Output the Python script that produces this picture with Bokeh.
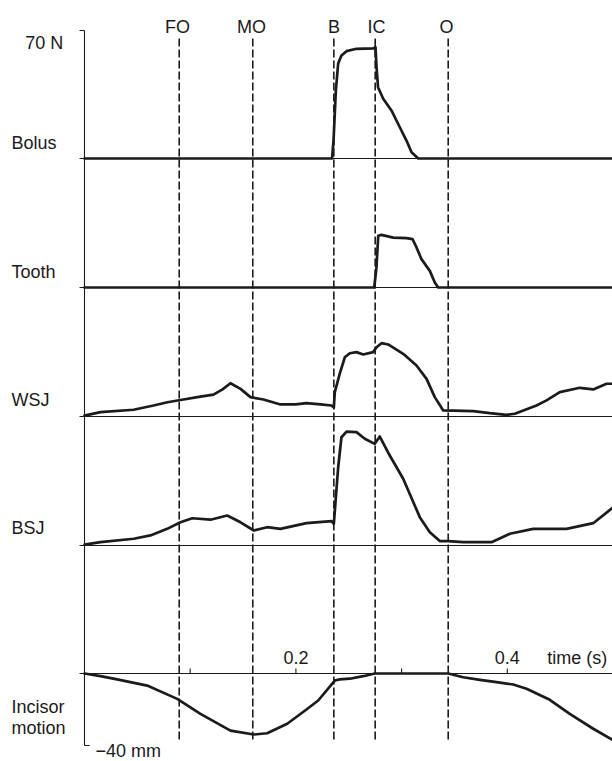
import numpy as np
from bokeh.plotting import figure
from bokeh.models import Range1d
from bokeh.core.properties import value
from bokeh.embed import file_html
from bokeh.resources import INLINE

# ---------------- data (time in s) ----------------
event_names = ["FO", "MO", "B", "IC", "O"]
event_t = [0.0896, 0.1592, 0.2359, 0.2750, 0.3441]

bolus_t = [0.0, 0.2342, 0.2356, 0.2378, 0.2400, 0.2431, 0.2479, 0.2573, 0.2734, 0.2753,
           0.2763, 0.2777, 0.2826, 0.2904, 0.2983, 0.3046, 0.3094, 0.3157, 0.4995]
bolus_n = [0.0, 0.0, 9.8, 37.2, 52.0, 56.3, 58.7, 60.0, 60.2, 60.9,
           49.9, 39.0, 32.7, 26.3, 17.1, 9.8, 3.4, 0.0, 0.0]

tooth_t = [0.0, 0.2741, 0.2762, 0.2779, 0.2810, 0.2921, 0.3046, 0.3103, 0.3141, 0.3188,
           0.3267, 0.3314, 0.3346, 0.4995]
tooth_n = [0.0, 0.0, 10.9, 28.3, 28.8, 27.3, 27.0, 26.5, 21.9, 15.5,
           9.1, 2.7, 0.0, 0.0]

wsj_t = [0.0, 0.0151, 0.0464, 0.0653, 0.0785, 0.0908, 0.1097, 0.1220, 0.1306, 0.1381,
         0.1476, 0.1570, 0.1693, 0.1854, 0.1996, 0.2100, 0.2233, 0.2337, 0.2359, 0.2368,
         0.2415, 0.2463, 0.2510, 0.2573, 0.2637, 0.2731, 0.2763, 0.2810, 0.2873, 0.3015,
         0.3141, 0.3236, 0.3314, 0.3394, 0.3677, 0.3834, 0.3992, 0.4071, 0.4276, 0.4371,
         0.4497, 0.4686, 0.4813, 0.4939, 0.4995]
wsj_n = [0.5, 2.4, 3.7, 6.0, 7.8, 9.0, 10.9, 12.0, 14.8, 18.2,
         15.1, 10.6, 9.3, 6.6, 6.6, 7.3, 6.6, 6.0, 4.9, 13.3,
         23.4, 32.4, 34.6, 35.2, 33.9, 35.2, 37.9, 40.1, 39.4, 34.3,
         27.9, 20.6, 10.6, 3.3, 2.9, 1.8, 0.9, 1.5, 6.0, 8.8,
         13.3, 15.7, 14.8, 17.9, 17.9]

bsj_t = [0.0, 0.0151, 0.0466, 0.0624, 0.0782, 0.0908, 0.1019, 0.1192, 0.1350, 0.1476,
         0.1602, 0.1728, 0.1854, 0.2100, 0.2337, 0.2359, 0.2400, 0.2431, 0.2479, 0.2573,
         0.2652, 0.2746, 0.2794, 0.2888, 0.3015, 0.3172, 0.3267, 0.3361, 0.3441, 0.3583,
         0.3851, 0.4024, 0.4245, 0.4560, 0.4813, 0.4995]
bsj_n = [0.5, 1.8, 3.7, 5.5, 9.1, 12.7, 14.9, 14.1, 16.4, 12.7,
         8.2, 10.0, 9.1, 12.2, 13.3, 11.9, 42.8, 59.2, 62.3, 62.0,
         58.4, 55.6, 59.6, 49.2, 36.5, 15.5, 7.3, 2.4, 2.4, 1.8,
         1.8, 6.4, 9.1, 9.1, 12.2, 20.6]

incisor_t = [0.0, 0.0151, 0.0309, 0.0593, 0.0877, 0.1097, 0.1381, 0.1602, 0.1728, 0.1918,
             0.2100, 0.2211, 0.2368, 0.2415, 0.2510, 0.2637, 0.2746, 0.3441, 0.3583, 0.3740,
             0.3898, 0.4056, 0.4182, 0.4402, 0.4591, 0.4813, 0.4995]
incisor_mm = [0.0, -1.5, -3.3, -6.7, -14.1, -22.4, -31.7, -33.9, -33.2, -27.9,
              -20.0, -15.0, -3.9, -3.3, -2.9, -1.5, 0.0, 0.0, -2.1, -3.5,
              -4.8, -6.1, -8.5, -14.6, -22.4, -30.7, -36.8]

channel_names = ["Bolus", "Tooth", "WSJ", "BSJ"]
time_ticks = [0.1, 0.2, 0.3, 0.4]
time_tick_labels = ["", "0.2", "", "0.4"]
force_max_label = "70 N"
force_max = 70.0
incisor_min = -40.0
incisor_min_label = "\u221240 mm"
time_label = "time (s)"

# ---------------- layout ----------------
W, H = 612, 761
PXS = 1057.0           # pixels per second
X0_PAGE = 84.0         # x of t = 0
FS = 128.0 / 70.0      # px per N
MS = 72.0 / 40.0       # px per mm

def tx(px):
    return (px - X0_PAGE) / PXS

def ty(py):
    return H - py

bases = [ty(158), ty(287), ty(416), ty(545)]
inc_base = ty(673)

INK = "#1c1a1b"
FONT = value("Liberation Sans")
FSIZE = "18px"

p = figure(width=W, height=H, output_backend="svg", toolbar_location=None,
           x_range=Range1d(tx(0), tx(W)), y_range=Range1d(0, H),
           min_border=0, min_border_left=0, min_border_right=0,
           min_border_top=0, min_border_bottom=0,
           x_axis_location=None, y_axis_location=None)
p.outline_line_color = None
p.grid.visible = False
p.background_fill_color = "white"
p.border_fill_color = "white"

# left vertical axis
p.line([0, 0], [ty(30), ty(745)], line_color=INK, line_width=1.1)
p.line([tx(79), 0], [bases[0] + force_max * FS] * 2, line_color=INK, line_width=1.1)
p.line([0, tx(89)], [inc_base + incisor_min * MS] * 2, line_color=INK, line_width=1.1)

# baselines
for b in bases + [inc_base]:
    p.line([tx(79), tx(W)], [b, b], line_color=INK, line_width=1.1)

# time ticks on incisor axis
p.segment(x0=time_ticks, y0=[inc_base] * 4, x1=time_ticks, y1=[inc_base + 5] * 4,
          line_color=INK, line_width=1.1)

# event dashed lines
p.segment(x0=event_t, y0=[ty(38)] * 5, x1=event_t, y1=[ty(742)] * 5,
          line_color=INK, line_width=1.6, line_dash="8 3")

# traces
series = [(bolus_t, bolus_n), (tooth_t, tooth_n), (wsj_t, wsj_n), (bsj_t, bsj_n)]
for (t, v), b in zip(series, bases):
    p.line(t, [b + vv * FS for vv in v], line_color=INK, line_width=2.7,
           line_join="round", line_cap="round")
p.line(incisor_t, [inc_base + m * MS for m in incisor_mm], line_color=INK,
       line_width=2.7, line_join="round", line_cap="round")

# texts
def txt(xs, ys, texts, align="left"):
    p.text(x=xs, y=ys, text=texts, text_font=FONT, text_font_size=FSIZE,
           text_align=align, text_baseline="alphabetic", text_color=INK)

txt([tx(62.7)], [ty(42.7)], [force_max_label], "right")
txt([tx(p_) for p_ in [177, 251, 333.5, 376, 446]], [ty(26)] * 5, event_names, "center")
txt([tx(11)] * 4, [ty(142.7), ty(271), ty(399.5), ty(527.7)], channel_names)
txt([tx(11), tx(11)], [ty(706), ty(727.7)], ["Incisor", "motion"])
txt([tx(95)], [ty(750)], [incisor_min_label])
lab_t = [t for t, l in zip(time_ticks, time_tick_labels) if l]
lab_l = [l for l in time_tick_labels if l]
txt(lab_t, [ty(657.3)] * len(lab_t), lab_l, "center")
txt([tx(546.7)], [ty(657.3)], [time_label])

open("out.html", "w").write(file_html(p, INLINE))
